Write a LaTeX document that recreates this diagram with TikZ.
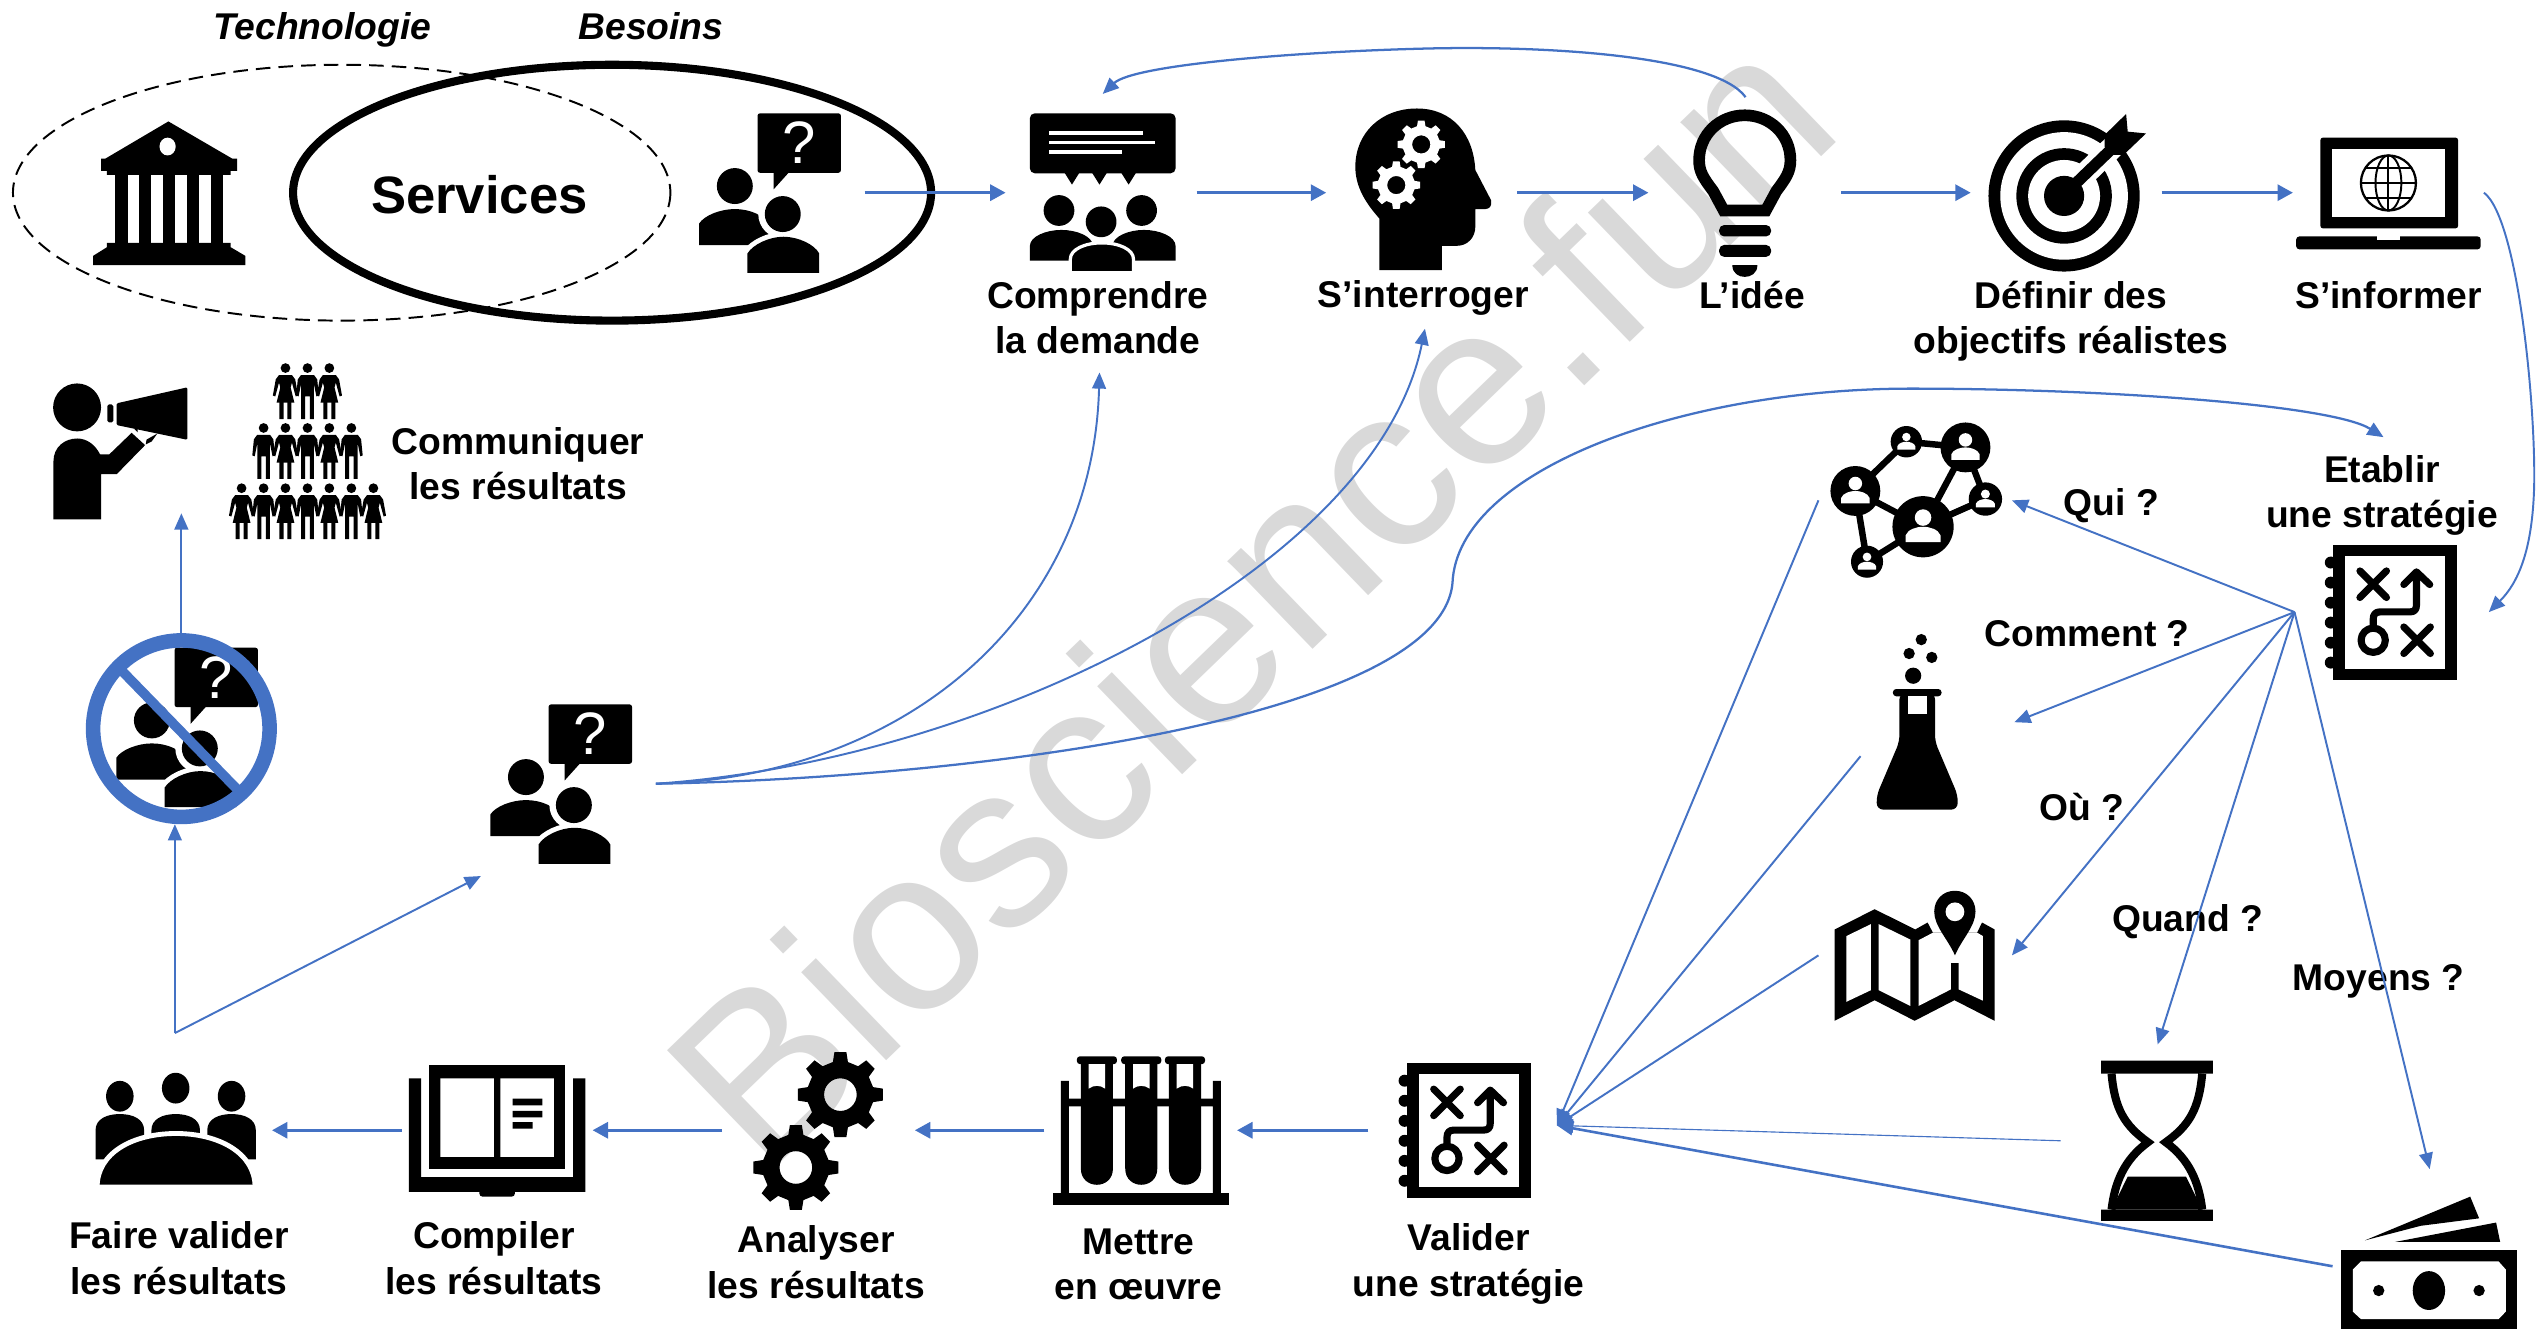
\documentclass[tikz,border=0pt]{standalone}
\usepackage{fontspec}
\setmainfont{Liberation Sans}
\usetikzlibrary{arrows.meta}
\definecolor{linkblue}{HTML}{4472C4}
\definecolor{markgray}{HTML}{D9D9D9}
\tikzset{
  lab/.style={font=\fontsize{23}{28}\selectfont\bfseries,align=center,inner sep=0pt},
  ilab/.style={font=\fontsize{23}{28}\selectfont\bfseries\itshape,inner sep=0pt},
  hlink/.style={-{Triangle[length=9.5pt,width=10pt]},linkblue,line width=1.6pt},
  tlink/.style={-{Triangle[length=10pt,width=8.5pt]},linkblue,line width=1.2pt},
  askers/.pic={
    \fill[rounded corners=1.5pt] (36.8,0) rectangle (88.3,36.7);
    \fill (46.7,36) -- (46.7,47) -- (56.6,36) -- cycle;
    \node[white,inner sep=0pt,font=\fontsize{37}{37}\selectfont] (qm) at (62.3,18.2) {?};
    \fill (22.8,44.9) circle (11.1);
    \fill (.8,81.4) -- (.8,68) .. controls (4,63) and (14,59.1) .. (22.8,59.1) .. controls (32,59.1) and (42,63) .. (44,70) -- (44,81.4) -- cycle;
    \draw[white,line width=8pt] (52.4,62.2) circle (11.1);
    \draw[white,line width=6pt] (30.6,98.5) -- (30.6,86.5) .. controls (34,81) and (44,76.2) .. (52.8,76.2) .. controls (62,76.2) and (72,81) .. (74.9,86.5) -- (74.9,98.5);
    \fill (52.4,62.2) circle (11.1);
    \fill (30.6,98.5) -- (30.6,86.5) .. controls (34,81) and (44,76.2) .. (52.8,76.2) .. controls (62,76.2) and (72,81) .. (74.9,86.5) -- (74.9,98.5) -- cycle;
  },
  gear/.pic={
    \path[pic actions,even odd rule] (-13:.78)
      \foreach \a in {0,45,...,315} { -- ({\a-13}:.78) -- ({\a-8}:1) -- ({\a+8}:1) -- ({\a+13}:.78) } -- cycle
      (0,0) circle (.38);
  },
  strategy/.pic={
    \foreach \y in {11.4,23.8,36.2,48.5,60.9,73.2} \fill (3.9,\y) circle (3.7);
    \fill (5.3,.3) rectangle (81.7,84.1);
    \fill[white] (12.8,7.5) rectangle (74.3,76.9);
    \draw[line width=4.4pt,line cap=round,line join=round]
      (21.9,16.6) -- (38.3,33) (38.3,16.6) -- (21.9,33)
      (49,51.2) -- (65.4,67.6) (65.4,51.2) -- (49,67.6)
      (30.1,59.4) circle (7.5)
      (30.1,50.1) -- (30.1,46.4) .. controls (30.1,43.5) and (31.5,41.9) .. (34.2,41.9) -- (52.7,41.9) .. controls (55.5,41.9) and (56.8,40.5) .. (56.8,37.8) -- (56.8,17.2)
      (49,25) -- (56.8,17.2) -- (65,25);
  },
  woman/.pic={
    \fill (0,0) circle (3);
    \fill (-4,4.3) -- (4,4.3) -- (6,7) -- (7.8,17) -- (6.3,17.5) -- (4,9) -- (3.2,12) -- (5.5,21.4) -- (-5.5,21.4) -- (-3.2,12) -- (-4,9) -- (-6.3,17.5) -- (-7.8,17) -- (-6,7) -- cycle;
    \fill (-3.7,21) rectangle (-1.2,31.5) (1.2,21) rectangle (3.7,31.5);
  },
  man/.pic={
    \fill (0,0) circle (3);
    \fill (-4,4.3) -- (4,4.3) -- (6,7) -- (7,17) -- (5.5,17.5) -- (3.9,9.5) -- (3.9,31.5) -- (1.4,31.5) -- (1.4,17.5) -- (-1.4,17.5) -- (-1.4,31.5) -- (-3.9,31.5) -- (-3.9,9.5) -- (-5.5,17.5) -- (-7,17) -- (-6,7) -- cycle;
  },
  netnode/.pic={
    \fill (0,0) circle (1);
    \fill[white] (0,-.3) circle (.27);
    \fill[white] (-.57,.5) -- (-.57,.28) .. controls (-.5,.08) and (-.2,0) .. (0,0) .. controls (.2,0) and (.5,.08) .. (.57,.28) -- (.57,.5) -- cycle;
  },
}
\begin{document}
\begin{tikzpicture}[x=1pt,y=-1pt]
  \useasboundingbox (0,0) rectangle (1568,821);

  \node[markgray,rotate=44,inner sep=0pt,font=\fontsize{143}{143}\selectfont] (mark) at (771,368) {Bioscience.fun};

  % Services
  \draw[dashed,dash pattern=on 9pt off 5pt,line width=1.2pt] (211,119) ellipse (203 and 79);
  \draw[line width=5pt] (378,119) ellipse (197 and 79);
  \node[ilab] (techno) at (199,18.5) {Technologie};
  \node[ilab] (besoins) at (402,16) {Besoins};
  \node[lab,font=\fontsize{32.5}{36}\selectfont\bfseries] (services) at (296,120) {Services};
  % bank
  \fill (104,75) -- (143.5,98) -- (146.5,98) -- (146.5,105.5) -- (142.5,105.5) -- (142.5,108) -- (66,108) -- (66,105.5) -- (62.5,105.5) -- (62.5,98) -- (65,98) -- cycle;
  \fill[white] (103.5,90.5) ellipse (5 and 5.5);
  \foreach \x/\w in {71/8,86/7.5,100.5/7.5,115.5/7.5,130.5/7} \fill (\x,108) rectangle ++(\w,42);
  \fill (66,150) -- (142.5,150) -- (142.5,152.7) -- (151.5,158) -- (151.5,163.7) -- (57.5,163.7) -- (57.5,158) -- (66,152.7) -- cycle;
  \pic at (431,70) {askers};

  % Comprendre
  \fill[rounded corners=3pt] (636,70) rectangle (726,107);
  \fill (657,106) -- (662,114) -- (667,106) -- (674,106) -- (679,114) -- (684,106) -- (692,106) -- (697,114) -- (702,106) -- cycle;
  \draw[white,line width=2.4pt] (648,82) -- (706,82) (648,88) -- (713,88) (648,94) -- (693,94);
  \foreach \x in {654,705} \fill (\x,130) circle (9.5);
  \fill (680,137) circle (9.5);
  \foreach \x in {636,687} \fill (\x,161) -- (\x,152) .. controls (\x,146) and ({\x+10},142) .. ({\x+19.5},142) .. controls ({\x+29},142) and ({\x+39},146) .. ({\x+39},152) -- ({\x+39},161) -- cycle;
  \fill[draw=white,line width=2pt] (661,168.5) -- (661,160) .. controls (661,154) and (670,150) .. (680.5,150) .. controls (691,150) and (700,154) .. (700,160) -- (700,168.5) -- cycle;
  \node[lab] (comprendre) at (678,196) {Comprendre\\la demande};

  % S'interroger
  \fill (851.8,166.8) -- (851.8,134.9) .. controls (843,125) and (837,115) .. (837,103) .. controls (837,82) and (853,67) .. (875,67) .. controls (897,67) and (910,83) .. (911.1,105) -- (920.8,123.6) .. controls (921.5,127) and (920,129.1) .. (917.3,129.1) -- (911.1,129.1) -- (911.1,140) .. controls (911.1,147) and (906,151.8) .. (899.8,151.8) -- (890.5,151.8) -- (890.5,166.8) -- cycle;
  \pic[scale=14.8,fill=white] at (877.7,89.2) {gear};
  \pic[scale=14.8,fill=white] at (862.3,114.3) {gear};
  \node[lab] (interroger) at (879,184) {S’interroger};

  % L'idee
  \draw[line width=7.2pt] (1064.5,130) -- (1058,118) .. controls (1052,110) and (1049.3,106) .. (1049.3,99) .. controls (1049.3,83) and (1062,71.2) .. (1077.5,71.2) .. controls (1093,71.2) and (1105.7,83) .. (1105.7,99) .. controls (1105.7,106) and (1103,110) .. (1097,118) -- (1090.5,130) -- cycle;
  \fill[rounded corners=3pt] (1061.7,139) rectangle (1093.7,146);
  \fill[rounded corners=3pt] (1061.7,151.3) rectangle (1093.7,158.6);
  \fill (1069.8,163.7) -- (1085.3,163.7) .. controls (1085.3,169) and (1081,171) .. (1077.5,171) .. controls (1074,171) and (1069.8,169) .. (1069.8,163.7) -- cycle;
  \node[lab] (idee) at (1082,182) {L’idée};

  % objectifs
  \fill (1274.7,121) circle (46.7);
  \fill[white] (1274.7,121) circle (39.4);
  \fill (1274.7,121) circle (29.5);
  \fill[white] (1274.7,121) circle (22.2);
  \draw[white,line width=14pt] (1283,112) -- (1320,76);
  \fill (1274.7,121) circle (12.4);
  \draw[line width=7pt] (1278,117) -- (1304,92);
  \fill (1313,70.4) -- (1314,81.3) -- (1325.3,82.4) -- (1311.4,95.7) -- (1305,95.7) -- (1299.7,90.6) -- (1299.7,83.4) -- cycle;
  \node[lab] (definir) at (1279,198.5) {Définir des\\objectifs réalistes};

  % S'informer
  \fill[rounded corners=1.5pt] (1433,85) rectangle (1518,141);
  \fill[white] (1440,92) rectangle (1510,134);
  \draw[line width=1.4pt] (1475,113) circle (17);
  \draw[line width=1.2pt] (1475,96) -- (1475,130) (1458,113) -- (1492,113) (1461,104) -- (1489,104) (1461,122) -- (1489,122);
  \draw[line width=1.2pt] (1475,113) ellipse (8 and 17);
  \fill[rounded corners=2pt] (1418,146) -- (1532,146) -- (1532,154) -- (1418,154) -- cycle;
  \fill[white] (1468,146) rectangle (1482,148.5);
  \node[lab] (informer) at (1475,182) {S’informer};

  % Communiquer
  \fill (47.6,251.6) circle (14.8);
  \fill (33,320.8) -- (33,285) .. controls (33,276) and (40,270.8) .. (47.7,270.8) .. controls (54,270.8) and (59,275) .. (61.8,280.6) -- (67.5,280.6) -- (81.3,267.3) -- (89.6,274.9) -- (72.1,292.8) -- (62.4,292.8) -- (62.4,320.8) -- cycle;
  \fill[rounded corners=.8pt] (72,249.1) -- (115.7,239.2) -- (115.7,271.6) -- (72,262.5) -- cycle;
  \fill[rounded corners=1pt] (66.3,249.8) rectangle (70,260.9);
  \fill (83,265) -- (85,265) -- (85,267) -- cycle;
  \fill (90.5,271.5) -- (97.2,267.7) -- (93.7,272.6) -- (90,274.5) -- cycle;
  \foreach \x in {176.3,203.4} \pic at (\x,227.3) {woman};
  \pic at (189.9,227.3) {man};
  \foreach \x in {176.3,203.4} \pic at (\x,264.3) {woman};
  \foreach \x in {162.8,189.9,217} \pic at (\x,264.3) {man};
  \foreach \x in {149.2,176.3,203.4,230.6} \pic at (\x,301.5) {woman};
  \foreach \x in {162.8,189.9,217} \pic at (\x,301.5) {man};
  \node[lab] (communiquer) at (320,286.5) {Communiquer\\les résultats};

  \pic at (71,400) {askers};
  \draw[linkblue,line width=9pt] (112,450) circle (54.5);
  \draw[linkblue,line width=6pt] (75,414) -- (147,488);
  \pic at (302,435) {askers};

  % Strategie
  \node[lab] (etablir) at (1471,306) {Etablir\\une stratégie};
  \pic at (1435.5,336) {strategy};
  \coordinate (netA) at (1145.8,303.2);
  \coordinate (netB) at (1187.6,325.3);
  \coordinate (netC) at (1213.8,276.3);
  \coordinate (netD) at (1177.3,272.8);
  \coordinate (netE) at (1226.1,308.2);
  \coordinate (netF) at (1153,346.9);
  \draw[line width=4pt] (netD) -- (netC) -- (netE) -- (netB) -- (netA) -- (netD) (netC) -- (netB) -- (netF) -- (netA);
  \pic[scale=15.4] at (netA) {netnode};
  \pic[scale=18.9] at (netB) {netnode};
  \pic[scale=15.4] at (netC) {netnode};
  \pic[scale=9.7] at (netD) {netnode};
  \pic[scale=10.3] at (netE) {netnode};
  \pic[scale=9.9] at (netF) {netnode};
  \node[lab] (qui) at (1304,312.5) {Qui ?};

  % flask
  \fill (1181.5,417.3) circle (5) (1179,403.6) circle (3.5) (1193,406) circle (3.5) (1186.5,395) circle (3.5);
  \fill[rounded corners=2pt] (1169,425.5) rectangle (1199,430);
  \fill[rounded corners=4pt] (1173,428) -- (1195,428) -- (1195,458) -- (1209,491) -- (1209,500) -- (1159,500) -- (1159,491) -- (1173,458) -- cycle;
  \fill[white] (1178,430) rectangle (1190,441);
  \node[lab] (comment) at (1289,391.5) {Comment ?};

  % map
  \fill (1133,574) -- (1157.7,561.5) -- (1182.8,574) -- (1190.4,569.7) -- (1193.7,576) -- (1221,576) -- (1224,569.7) -- (1231.8,574) -- (1231.8,630.4) -- (1207,617.7) -- (1182.4,630.4) -- (1157.7,617.7) -- (1133,630.4) -- cycle;
  \fill[white] (1140.2,578.1) -- (1155.4,570.7) -- (1155.4,611.5) -- (1140.2,618.7) -- cycle;
  \fill[white] (1160.2,570.7) -- (1179.7,580.2) -- (1179.7,621.2) -- (1160.2,611.5) -- cycle;
  \fill[white] (1184.9,580.6) -- (1193.7,576) -- (1221,576) -- (1224.6,578.1) -- (1224.6,618) -- (1209.6,611) -- (1209.6,594.6) -- (1204.8,594.6) -- (1204.8,611) -- (1184.9,621.2) -- cycle;
  \fill (1207.3,590) .. controls (1203,580) and (1194.5,572) .. (1194.5,563) .. controls (1194.5,555.5) and (1200,550.1) .. (1207.3,550.1) .. controls (1214.5,550.1) and (1220,555.5) .. (1220,563) .. controls (1220,572) and (1211.5,580) .. (1207.3,590) -- cycle;
  \fill[white] (1207.3,563.1) circle (5.8);
  \node[lab] (ou) at (1285.5,498.5) {Où ?};

  % hourglass
  \fill (1297.5,655) rectangle (1366.5,663) (1297.5,747) rectangle (1366.5,754);
  \fill (1314,726.6) -- (1350,726.6) -- (1360,747) -- (1304,747) -- cycle;
  \draw[line width=5pt] (1304,663) .. controls (1306,685) and (1312,695) .. (1326.5,705.4) .. controls (1312,716) and (1306,730) .. (1304,747);
  \draw[line width=5pt] (1360,663) .. controls (1358,685) and (1352,695) .. (1337.5,705.4) .. controls (1352,716) and (1358,730) .. (1360,747);
  \node[lab] (quand) at (1351,569) {Quand ?};

  % money
  \fill (1445.5,772) rectangle (1554.5,821);
  \fill[white] (1458,779) -- (1543,779) -- (1547.5,784) -- (1547.5,810) -- (1543,814.6) -- (1458,814.6) -- (1453,810) -- (1453,784) -- cycle;
  \fill (1500,797) ellipse (10 and 12);
  \fill (1469,797) circle (3.5) (1531,797) circle (3.5);
  \fill (1460.5,766) -- (1525.5,739) -- (1531,752.4) -- (1495,757) -- cycle;
  \fill (1479,767) -- (1541.5,755) -- (1544,767) -- cycle;
  \node[lab] (moyens) at (1469,606) {Moyens ?};

  % bottom row
  \pic at (863.5,656) {strategy};
  \node[lab] (valider) at (907,780.5) {Valider\\une stratégie};

  \fill (650.2,736.7) rectangle (758.7,743.9);
  \fill (655.2,667.5) rectangle (660.1,737) (749,667.5) rectangle (754,737) (655.2,678.4) rectangle (754,683.2);
  \foreach \x in {677.4,704.8,731.8} {
    \fill[rounded corners=2pt] ({\x-12.4},652.3) rectangle ({\x+12.4},657.2);
    \fill ({\x-9.9},655) -- ({\x+9.9},655) -- ({\x+9.9},721.7) .. controls ({\x+9.9},735) and ({\x-9.9},735) .. ({\x-9.9},721.7) -- cycle;
    \fill[white] ({\x-5.1},657.2) -- ({\x+5.1},657.2) -- ({\x+5.1},672.3) .. controls ({\x+2},670) and ({\x-2},670) .. ({\x-5.1},672.3) -- cycle;
  }
  \node[lab] (mettre) at (703,781) {Mettre\\en œuvre};

  \pic[scale=26.5,fill=black] at (519,676) {gear};
  \pic[scale=26.5,fill=black] at (491.5,721) {gear};
  \node[lab] (analyser) at (504,779.5) {Analyser\\les résultats};

  \fill (252.5,666) rectangle (260,736) (354,666) rectangle (361.5,736) (252.5,727) rectangle (361.5,736);
  \fill[rounded corners=2pt] (296,733) rectangle (318,739);
  \fill (265,658) rectangle (349,722);
  \fill[white] (272,666) rectangle (305,714.5) (309,666) rectangle (342,714.5);
  \fill (316.5,678.5) rectangle (335,682.7) (316.5,686) rectangle (335,690) (316.5,693) rectangle (329,697);
  \node[lab] (compiler) at (305,777) {Compiler\\les résultats};

  \fill (74,677) ellipse (8.5 and 9.5) (108.5,672) ellipse (8.5 and 9.5) (143,677) ellipse (8.5 and 9.5);
  \foreach \x in {59,93.5,128} \fill (\x,716) -- (\x,698) .. controls (\x,691) and ({\x+7},688) .. ({\x+15},688) .. controls ({\x+23},688) and ({\x+30},691) .. ({\x+30},698) -- ({\x+30},716) -- cycle;
  \fill[draw=white,line width=3pt] (60,733) .. controls (60,712) and (82,700) .. (108.7,700) .. controls (135,700) and (157.5,712) .. (157.5,733) -- cycle;
  \node[lab] (faire) at (110.5,777) {Faire valider\\les résultats};

  % connectors top row
  \coordinate (askA) at (534,119);
  \coordinate (compL) at (621,119);
  \coordinate (compR) at (739,119);
  \coordinate (intL) at (819,119);
  \coordinate (intR) at (937,119);
  \coordinate (ideeL) at (1018,119);
  \coordinate (ideeR) at (1137,119);
  \coordinate (defL) at (1217,119);
  \coordinate (defR) at (1335,119);
  \coordinate (infL) at (1416,119);
  \draw[hlink] (askA) -- (compL);
  \draw[hlink] (compR) -- (intL);
  \draw[hlink] (intR) -- (ideeL);
  \draw[hlink] (ideeR) -- (defL);
  \draw[hlink] (defR) -- (infL);

  \coordinate (ideeT) at (1078,60);
  \coordinate (compT) at (681,58);
  \draw[tlink,line width=1.4pt] (ideeT) .. controls (1060,35) and (960,28) .. (880,30) .. controls (800,32) and (700,40) .. (compT);

  \coordinate (infR) at (1534,119);
  \coordinate (stratR) at (1537,378);
  \draw[tlink] (infR) .. controls (1555,135) and (1566,250) .. (1565,300) .. controls (1564,340) and (1555,360) .. (stratR);

  % from the askers
  \coordinate (askB) at (405,484);
  \coordinate (compB) at (679,230);
  \coordinate (intB) at (880,203);
  \coordinate (etabT) at (1472,270);
  \draw[tlink] (askB) .. controls (560,480) and (675,380) .. (compB);
  \draw[tlink] (askB) .. controls (610,470) and (850,350) .. (intB);
  \draw[tlink,line width=1.4pt] (askB) .. controls (620,480) and (890,440) .. (897,360) .. controls (900,290) and (1040,240) .. (1180,240) .. controls (1300,240) and (1440,250) .. (etabT);

  % left side
  \coordinate (split) at (108,638);
  \coordinate (ringB) at (108,509);
  \coordinate (askL) at (297,541);
  \coordinate (ringT) at (112,391);
  \coordinate (megaB) at (112,317);
  \draw[tlink] (split) -- (ringB);
  \draw[tlink] (split) -- (askL);
  \draw[tlink] (ringT) -- (megaB);

  % bottom row links
  \coordinate (valL) at (845,698);
  \coordinate (metR) at (764,698);
  \coordinate (metL) at (645,698);
  \coordinate (anaR) at (565,698);
  \coordinate (anaL) at (446,698);
  \coordinate (cmpR) at (366,698);
  \coordinate (cmpL) at (248,698);
  \coordinate (faiR) at (168,698);
  \draw[hlink] (valL) -- (metR);
  \draw[hlink] (metL) -- (anaR);
  \draw[hlink] (anaL) -- (cmpR);
  \draw[hlink] (cmpL) -- (faiR);

  % questions
  \coordinate (hub) at (1417,378);
  \coordinate (netR) at (1242.5,309);
  \coordinate (flaskR) at (1244,446);
  \coordinate (mapR) at (1242.5,590);
  \coordinate (hourT) at (1332.5,645);
  \coordinate (monT) at (1500.5,722);
  \draw[tlink] (hub) -- (netR);
  \draw[tlink] (hub) -- (flaskR);
  \draw[tlink] (hub) -- (mapR);
  \draw[tlink] (hub) -- (hourT);
  \draw[tlink] (hub) -- (monT);

  \coordinate (valR) at (961.5,695);
  \coordinate (netL) at (1123,309);
  \coordinate (flaskL) at (1149,467);
  \coordinate (mapL) at (1123,590);
  \coordinate (hourL) at (1272.5,704.5);
  \coordinate (monL) at (1440.5,782);
  \draw[tlink] (netL) -- (valR);
  \draw[tlink] (flaskL) -- (valR);
  \draw[tlink] (mapL) -- (valR);
  \draw[tlink,line width=.7pt] (hourL) -- (valR);
  \draw[tlink,line width=1.6pt] (monL) -- (valR);
\end{tikzpicture}
\end{document}
